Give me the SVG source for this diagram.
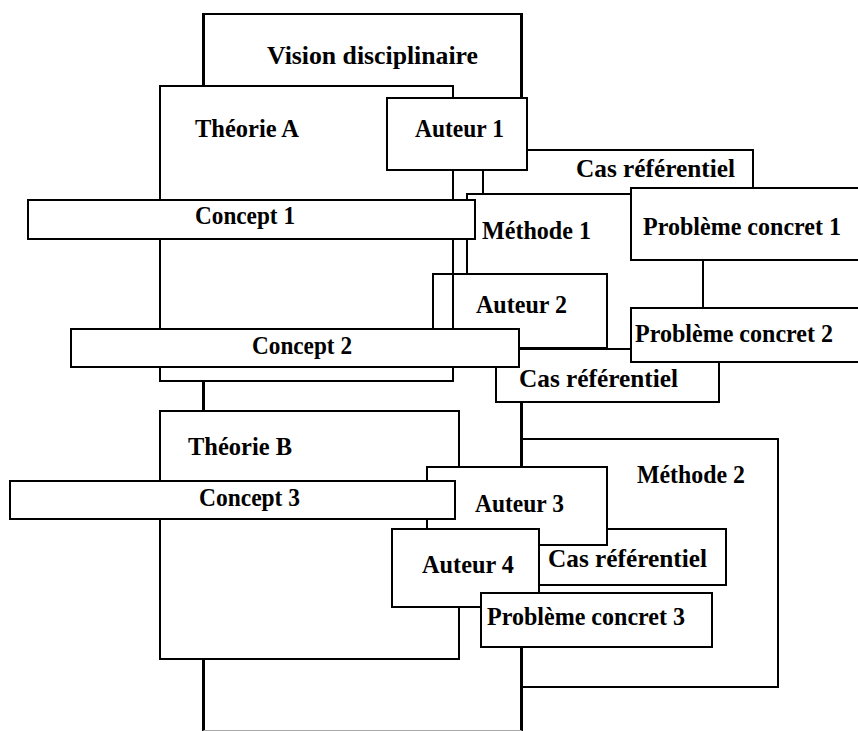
<svg xmlns="http://www.w3.org/2000/svg" width="858" height="731" viewBox="0 0 858 731">
<style>
.box{fill:#fff;stroke:#000;stroke-width:2}
.lbl{font-family:"Liberation Serif","Times New Roman",serif;font-weight:bold;font-size:25px;fill:#000}
.thick{fill:none;stroke:#000;stroke-width:3}
.edge{fill:none;stroke:#000;stroke-width:2}
</style>
<rect width="858" height="731" fill="#fff"/>
<g id="vision">
<rect x="203.5" y="14" width="318" height="720" fill="#fff"/>
<line x1="203.5" y1="14" x2="521.5" y2="14" class="edge"/>
<path d="M203.5 733 V13 M521.5 13 V733" class="thick"/>
<line x1="203.5" y1="730.5" x2="521.5" y2="730.5" stroke="#aaa" stroke-width="1"/>
<text class="lbl" x="267" y="64" textLength="211" lengthAdjust="spacingAndGlyphs">Vision disciplinaire</text>
</g>
<g id="theorie-a">
<rect class="box" x="160" y="86" width="293" height="295"/>
<text class="lbl" x="195" y="137" textLength="104" lengthAdjust="spacingAndGlyphs">Théorie A</text>
</g>
<g id="cas-ref-1">
<rect class="box" x="483" y="150" width="270" height="44"/>
<text class="lbl" x="576" y="177" textLength="159" lengthAdjust="spacingAndGlyphs">Cas référentiel</text>
</g>
<g id="methode-1">
<rect class="box" x="467" y="194" width="236" height="161"/>
<text class="lbl" x="482" y="239" textLength="109" lengthAdjust="spacingAndGlyphs">Méthode 1</text>
</g>
<g id="auteur-2">
<rect class="box" x="433" y="274" width="174" height="74"/>
<text class="lbl" x="476" y="313" textLength="91" lengthAdjust="spacingAndGlyphs">Auteur 2</text>
</g>
<g id="connectors">
<line class="edge" x1="453" y1="273" x2="453" y2="330"/>
</g>
<g id="auteur-1">
<rect class="box" x="387" y="98" width="140" height="72"/>
<text class="lbl" x="415" y="137" textLength="89" lengthAdjust="spacingAndGlyphs">Auteur 1</text>
</g>
<g id="concept-1">
<rect class="box" x="28" y="200" width="447" height="39"/>
<text class="lbl" x="195" y="224" textLength="100" lengthAdjust="spacingAndGlyphs">Concept 1</text>
</g>
<g id="probleme-1">
<rect class="box" x="631" y="188" width="240" height="72"/>
<text class="lbl" x="643" y="235" textLength="198" lengthAdjust="spacingAndGlyphs">Problème concret 1</text>
</g>
<g id="cas-ref-2">
<rect class="box" x="496" y="349" width="223" height="53"/>
<text class="lbl" x="519" y="387" textLength="159" lengthAdjust="spacingAndGlyphs">Cas référentiel</text>
</g>
<g id="probleme-2">
<rect class="box" x="631" y="308" width="240" height="54"/>
<text class="lbl" x="635" y="342" textLength="198" lengthAdjust="spacingAndGlyphs">Problème concret 2</text>
</g>
<g id="concept-2">
<rect class="box" x="71" y="329" width="448" height="38"/>
<text class="lbl" x="252" y="354" textLength="100" lengthAdjust="spacingAndGlyphs">Concept 2</text>
</g>
<g id="theorie-b">
<rect class="box" x="160" y="411" width="299" height="248"/>
<text class="lbl" x="188" y="455" textLength="104" lengthAdjust="spacingAndGlyphs">Théorie B</text>
</g>
<g id="methode-2">
<rect class="box" x="522" y="439" width="256" height="248"/>
<text class="lbl" x="637" y="483" textLength="108" lengthAdjust="spacingAndGlyphs">Méthode 2</text>
</g>
<g id="cas-ref-3">
<rect class="box" x="529" y="529" width="197" height="56"/>
<text class="lbl" x="548" y="567" textLength="159" lengthAdjust="spacingAndGlyphs">Cas référentiel</text>
</g>
<g id="auteur-3">
<rect class="box" x="427" y="467" width="180" height="78"/>
<text class="lbl" x="475" y="512" textLength="89" lengthAdjust="spacingAndGlyphs">Auteur 3</text>
</g>
<g id="concept-3">
<rect class="box" x="10" y="481" width="445" height="38"/>
<text class="lbl" x="199" y="506" textLength="101" lengthAdjust="spacingAndGlyphs">Concept 3</text>
</g>
<g id="auteur-4">
<rect class="box" x="392" y="529" width="147" height="78"/>
<text class="lbl" x="422" y="573" textLength="92" lengthAdjust="spacingAndGlyphs">Auteur 4</text>
</g>
<g id="probleme-3">
<rect class="box" x="481" y="593" width="231" height="54"/>
<text class="lbl" x="487" y="625" textLength="198" lengthAdjust="spacingAndGlyphs">Problème concret 3</text>
</g>
</svg>
